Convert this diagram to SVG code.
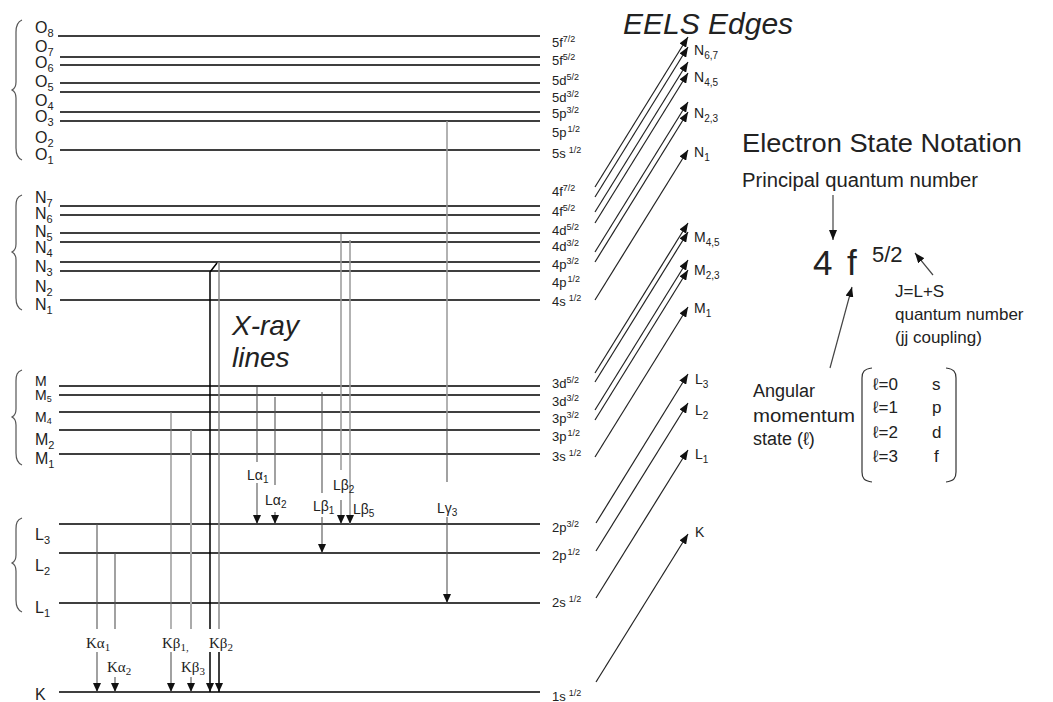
<svg xmlns="http://www.w3.org/2000/svg" width="1053" height="702" viewBox="0 0 1053 702">
<style>
.lv{stroke:#000;stroke-width:1.6;fill:none}
.br{stroke:#555;stroke-width:1.2;fill:none}
.t{font-family:"Liberation Sans",Arial,sans-serif;fill:#222}
.s{font-family:"Liberation Serif","Times New Roman",serif;fill:#222}
.ll{font-size:16px}
.rl{font-size:13px}
.xr{stroke:#555;stroke-width:1.1;fill:none}
.xg{stroke:#999;stroke-width:1.5;fill:none}
.xk{stroke:#000;stroke-width:1.5;fill:none}
.ee{stroke:#222;stroke-width:1.2;fill:none;marker-end:url(#ah)}
.dn{marker-end:url(#av)}
</style>
<defs>
<marker id="ah" viewBox="0 0 10 8" refX="10" refY="4" markerWidth="10" markerHeight="8" markerUnits="userSpaceOnUse" orient="auto"><path d="M0,0 L10,4 L0,8 z" fill="#111"/></marker>
<marker id="av" viewBox="0 0 9 8" refX="9" refY="4" markerWidth="9" markerHeight="8" markerUnits="userSpaceOnUse" orient="auto"><path d="M0,0 L9,4 L0,8 z" fill="#111"/></marker>
</defs>
<rect width="1053" height="702" fill="#fff"/>

<g id="levels">
<path class="lv" d="M58,36H540 M60,57H540 M60,65H540 M60,83H540 M60,92H540 M60,112H540 M60,121H540 M60,150H540"/>
<path class="lv" d="M60,206H540 M60,215H540 M60,233H540 M60,242H540 M60,262H540 M60,271H540 M60,300H540"/>
<path class="lv" d="M59,386H540 M59,395H540 M59,412H540 M59,430H540 M59,454H540"/>
<path class="lv" d="M59,524H540 M59,553H540 M59,603H540 M59,692H540"/>
</g>

<g id="braces">
<path class="br" d="M22,20 C17,22 16,26 16,32 L16,82 C16,87 14,89 12,90 C14,91 16,93 16,98 L16,148 C16,154 17,158 22,160"/>
<path class="br" d="M22,195 C17,197 16,200 16,206 L16,244 C16,249 14,251 12,252 C14,253 16,255 16,260 L16,298 C16,304 17,308 22,310"/>
<path class="br" d="M22,370 C17,372 16,375 16,381 L16,409 C16,414 14,416 12,417 C14,418 16,420 16,425 L16,453 C16,459 17,463 22,465"/>
<path class="br" d="M22,518 C17,520 16,523 16,529 L16,555 C16,560 14,562 12,563 C14,564 16,566 16,571 L16,600 C16,606 17,610 22,612"/>
</g>

<g id="left-labels" class="t ll">
<text x="35" y="33">O<tspan font-size="11" dy="4">8</tspan></text>
<text x="35" y="52">O<tspan font-size="11" dy="4">7</tspan></text>
<text x="35" y="68">O<tspan font-size="11" dy="4">6</tspan></text>
<text x="35" y="87">O<tspan font-size="11" dy="4">5</tspan></text>
<text x="35" y="106">O<tspan font-size="11" dy="4">4</tspan></text>
<text x="35" y="122">O<tspan font-size="11" dy="4">3</tspan></text>
<text x="35" y="143">O<tspan font-size="11" dy="4">2</tspan></text>
<text x="35" y="160">O<tspan font-size="11" dy="4">1</tspan></text>
<text x="35" y="203">N<tspan font-size="11" dy="4">7</tspan></text>
<text x="35" y="219">N<tspan font-size="11" dy="4">6</tspan></text>
<text x="35" y="237">N<tspan font-size="11" dy="4">5</tspan></text>
<text x="35" y="253">N<tspan font-size="11" dy="4">4</tspan></text>
<text x="35" y="272">N<tspan font-size="11" dy="4">3</tspan></text>
<text x="35" y="292">N<tspan font-size="11" dy="4">2</tspan></text>
<text x="35" y="310">N<tspan font-size="11" dy="4">1</tspan></text>
<text x="35" y="386" font-size="14">M</text>
<text x="35" y="400" font-size="14">M<tspan font-size="9" dy="2">5</tspan></text>
<text x="35" y="422" font-size="14">M<tspan font-size="9" dy="2">4</tspan></text>
<text x="35" y="445">M<tspan font-size="11" dy="4">2</tspan></text>
<text x="35" y="464">M<tspan font-size="11" dy="4">1</tspan></text>
<text x="35" y="540">L<tspan font-size="11" dy="4">3</tspan></text>
<text x="35" y="571">L<tspan font-size="11" dy="4">2</tspan></text>
<text x="35" y="613">L<tspan font-size="11" dy="4">1</tspan></text>
<text x="35" y="700">K</text>
</g>

<g id="right-labels" class="t rl">
<text x="552" y="47">5f<tspan font-size="9" dy="-5">7/2</tspan></text>
<text x="552" y="65">5f<tspan font-size="9" dy="-5">5/2</tspan></text>
<text x="552" y="85">5d<tspan font-size="9" dy="-5">5/2</tspan></text>
<text x="552" y="102">5d<tspan font-size="9" dy="-5">3/2</tspan></text>
<text x="552" y="118">5p<tspan font-size="9" dy="-5">3/2</tspan></text>
<text x="552" y="137">5p<tspan font-size="9" dy="-5" dx="1">1/2</tspan></text>
<text x="552" y="158">5s<tspan font-size="9" dy="-5" dx="3">1/2</tspan></text>
<text x="552" y="196">4f<tspan font-size="9" dy="-5">7/2</tspan></text>
<text x="552" y="216">4f<tspan font-size="9" dy="-5">5/2</tspan></text>
<text x="552" y="235">4d<tspan font-size="9" dy="-5">5/2</tspan></text>
<text x="552" y="251">4d<tspan font-size="9" dy="-5">3/2</tspan></text>
<text x="552" y="269">4p<tspan font-size="9" dy="-5">3/2</tspan></text>
<text x="552" y="287">4p<tspan font-size="9" dy="-5" dx="1">1/2</tspan></text>
<text x="552" y="306">4s<tspan font-size="9" dy="-5" dx="3">1/2</tspan></text>
<text x="552" y="388">3d<tspan font-size="9" dy="-5">5/2</tspan></text>
<text x="552" y="406">3d<tspan font-size="9" dy="-5">3/2</tspan></text>
<text x="552" y="423">3p<tspan font-size="9" dy="-5">3/2</tspan></text>
<text x="552" y="441">3p<tspan font-size="9" dy="-5" dx="1">1/2</tspan></text>
<text x="552" y="461">3s<tspan font-size="9" dy="-5" dx="3">1/2</tspan></text>
<text x="552" y="532">2p<tspan font-size="9" dy="-5">3/2</tspan></text>
<text x="552" y="560">2p<tspan font-size="9" dy="-5" dx="1">1/2</tspan></text>
<text x="552" y="607">2s<tspan font-size="9" dy="-5" dx="3">1/2</tspan></text>
<text x="552" y="701">1s<tspan font-size="9" dy="-5" dx="3">1/2</tspan></text>
</g>

<g id="titles" class="t">
<text x="623" y="34" font-size="30" font-style="italic">EELS Edges</text>
<text x="232" y="335" font-size="28" font-style="italic">X-ray</text>
<text x="232" y="367" font-size="28" font-style="italic">lines</text>
</g>

<g id="connectors">
<path class="ee" d="M595,187 L688,37"/>
<path class="ee" d="M595,197 L688,47"/>
<path class="ee" d="M595,212 L688,62"/>
<path class="ee" d="M595,223 L688,73"/>
<path class="ee" d="M595,252 L688,102"/>
<path class="ee" d="M595,262 L688,112"/>
<path class="ee" d="M595,300 L688,150"/>
<path class="ee" d="M595,373 L688,223"/>
<path class="ee" d="M595,382 L688,232"/>
<path class="ee" d="M595,410 L688,260"/>
<path class="ee" d="M595,420 L688,270"/>
<path class="ee" d="M595,457 L688,307"/>
<path class="ee" d="M596,523 L688,374"/>
<path class="ee" d="M596,551 L688,403"/>
<path class="ee" d="M596,598 L688,450"/>
<path class="ee" d="M596,682 L688,534"/>

<path class="xr" d="M97,524V629"/><path class="xr dn" d="M97,652V692"/>
<path class="xr" d="M115,553V629"/><path class="xr dn" d="M115,677V692"/>
<path class="xr" style="stroke:#777" d="M171,412V629"/><path class="xr dn" d="M171,652V692"/>
<path class="xg" style="stroke:#aaa;stroke-width:2" d="M191,430V629"/><path class="xr dn" d="M191,677V692"/>
<path class="xk" d="M210,629V272 L217,263"/><path class="xk dn" d="M210,652V692"/>
<path class="xg" style="stroke:#888" d="M219,262V629"/><path class="xk dn" d="M219,652V692"/>

<path class="xr" d="M257,387V462"/><path class="xr dn" d="M257,483V524"/>
<path class="xr" d="M275,397V485"/><path class="xr dn" d="M275,512V524"/>
<path class="xr" d="M322,392V493"/><path class="xr dn" d="M322,517V553"/>
<path class="xg" d="M341,234V470"/><path class="xr dn" d="M341,500V524"/>
<path class="xg dn" d="M350,240V524"/>
<path class="xg" d="M447,121V428"/><path class="xr" d="M447,428V482"/><path class="xr dn" d="M447,517V603"/>

<path class="ee" style="stroke:#444" d="M833,195V240"/>
<path class="ee" style="stroke:#444" d="M933,275L915,253"/>
<path class="ee" style="stroke:#444" d="M830,368L852,287"/>
</g>

<g id="xray-labels">
<text class="s" font-size="15" x="86" y="648">Kα<tspan font-size="11" dy="3">1</tspan></text>
<text class="s" font-size="15" x="107" y="672">Kα<tspan font-size="11" dy="3">2</tspan></text>
<text class="s" font-size="15" x="162" y="648">Kβ<tspan font-size="11" dy="3">1,</tspan></text>
<text class="s" font-size="15" x="181" y="672">Kβ<tspan font-size="11" dy="3">3</tspan></text>
<text class="s" font-size="15" x="209" y="648">Kβ<tspan font-size="11" dy="3">2</tspan></text>
<text class="t" font-size="14" x="247" y="480">Lα<tspan font-size="10" dy="3">1</tspan></text>
<text class="t" font-size="14" x="265" y="505">Lα<tspan font-size="10" dy="3">2</tspan></text>
<text class="t" font-size="14" x="313" y="511">Lβ<tspan font-size="10" dy="3">1</tspan></text>
<text class="t" font-size="14" x="333" y="490">Lβ<tspan font-size="10" dy="3">2</tspan></text>
<text class="t" font-size="14" x="353" y="514">Lβ<tspan font-size="10" dy="3">5</tspan></text>
<text class="t" font-size="14" x="437" y="513">Lγ<tspan font-size="10" dy="3">3</tspan></text>
</g>

<g id="edge-labels" class="t" font-size="14">
<text x="694" y="55">N<tspan font-size="10" dy="4">6,7</tspan></text>
<text x="694" y="82">N<tspan font-size="10" dy="4">4,5</tspan></text>
<text x="694" y="118">N<tspan font-size="10" dy="4">2,3</tspan></text>
<text x="694" y="157">N<tspan font-size="10" dy="4">1</tspan></text>
<text x="694" y="242">M<tspan font-size="10" dy="4">4,5</tspan></text>
<text x="694" y="275">M<tspan font-size="10" dy="4">2,3</tspan></text>
<text x="694" y="313">M<tspan font-size="10" dy="4">1</tspan></text>
<text x="695" y="384">L<tspan font-size="10" dy="4">3</tspan></text>
<text x="695" y="415">L<tspan font-size="10" dy="4">2</tspan></text>
<text x="695" y="459">L<tspan font-size="10" dy="4">1</tspan></text>
<text x="695" y="537">K</text>
</g>

<g id="notation" class="t">
<text x="742" y="152" font-size="26" textLength="280" lengthAdjust="spacingAndGlyphs">Electron State Notation</text>
<text x="742" y="187" font-size="19.5" textLength="236" lengthAdjust="spacingAndGlyphs">Principal quantum number</text>
<text x="813" y="275" font-size="35">4</text>
<text x="847" y="275" font-size="35">f</text>
<text x="872" y="262" font-size="22">5/2</text>
<text x="895" y="297" font-size="17">J=L+S</text>
<text x="895" y="320" font-size="17">quantum number</text>
<text x="895" y="343" font-size="17">(jj coupling)</text>
<text x="753" y="397" font-size="18">Angular</text>
<text x="753" y="422" font-size="18" textLength="102" lengthAdjust="spacingAndGlyphs">momentum</text>
<text x="753" y="445" font-size="18">state (ℓ)</text>
<path class="br" style="stroke:#333" d="M872,368 C864,369 862,372 862,378 L862,472 C862,478 864,481 872,482"/>
<path class="br" style="stroke:#333" d="M946,368 C954,369 956,372 956,378 L956,472 C956,478 954,481 946,482"/>
<text x="873" y="390" font-size="17">ℓ=0</text><text x="932" y="390" font-size="17">s</text>
<text x="873" y="413" font-size="17">ℓ=1</text><text x="932" y="413" font-size="17">p</text>
<text x="873" y="438" font-size="17">ℓ=2</text><text x="932" y="438" font-size="17">d</text>
<text x="873" y="462" font-size="17">ℓ=3</text><text x="934" y="462" font-size="17">f</text>
</g>
</svg>
